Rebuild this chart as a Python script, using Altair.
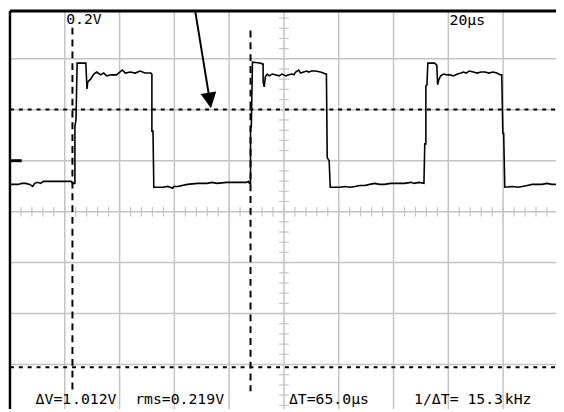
import altair as alt
import pandas as pd

# ---- oscilloscope trace: time (µs) and voltage (V, relative to the ground marker) ----
trace_t = [0, 1.4, 2.9, 4.3, 5.8, 7.2, 8.3, 9.0, 10.1, 11.2, 12.2, 14.4, 16.6, 18.7, 20.9, 22.3, 23.0, 23.4,
           23.7, 23.7, 24.1, 24.5, 24.5, 27.3, 27.7,
           28.1, 28.4, 29.5, 30.6, 31.7, 33.1, 34.2, 35.3, 37.1, 38.9, 41.0, 42.1, 43.9, 45.7, 47.5, 49.3, 51.4,
           51.8, 51.8, 52.2, 52.5,
           55.8, 57.6, 59.4, 59.7, 61.2, 64.8, 68.4, 71.9, 73.7, 75.5, 79.1, 82.7, 86.3, 87.1, 87.4,
           87.8, 87.8, 88.1, 88.5, 91.7, 92.1,
           92.4, 92.4, 92.8, 93.2, 93.9, 94.6, 95.7, 96.8, 98.2, 99.3, 100.7, 101.8, 102.9, 103.6, 104.3, 105.4,
           106.1, 107.2, 108.3, 109.0, 110.1, 111.5, 113.3, 114.4, 115.1,
           115.5, 115.8, 116.5, 116.9,
           118.7, 120.5, 122.3, 124.1, 125.9, 127.7, 129.5, 131.3, 133.1, 134.9, 136.7, 138.9, 140.3, 142.1,
           143.9, 146.4, 147.5, 149.3, 151.1,
           151.4, 151.8, 151.8, 152.2, 152.5, 152.5, 155.0, 155.4,
           155.8, 156.1, 156.5, 157.2, 158.3, 159.4, 160.4, 161.9, 163.3, 164.7, 165.5, 166.5, 167.6, 169.1,
           170.5, 171.9, 173.4, 174.8, 176.3, 177.7, 179.1,
           179.5, 179.9, 180.2, 180.6,
           183.5, 185.3, 187.0, 188.8, 190.6, 192.4, 194.2, 196.0, 197.8, 199.3]
trace_v = [-0.093, -0.093, -0.093, -0.089, -0.089, -0.093, -0.101, -0.089, -0.085, -0.089, -0.081, -0.081,
           -0.081, -0.081, -0.081, -0.081, -0.089, -0.089,
           -0.089, 0.135, 0.162, 0.379, 0.383, 0.383, 0.383,
           0.282, 0.309, 0.321, 0.340, 0.348, 0.337, 0.344, 0.333, 0.337, 0.337, 0.356, 0.344, 0.348, 0.344,
           0.352, 0.344, 0.344,
           0.340, 0.116, 0.116, -0.104,
           -0.104, -0.101, -0.108, -0.101, -0.101, -0.093, -0.089, -0.089, -0.085, -0.089, -0.085, -0.085,
           -0.085, -0.081, -0.089,
           -0.089, 0.128, 0.135, 0.387, 0.383, 0.379,
           0.379, 0.309, 0.290, 0.329, 0.340, 0.333, 0.340, 0.337, 0.333, 0.340, 0.333, 0.337, 0.340, 0.337,
           0.348, 0.356, 0.344, 0.348, 0.352, 0.348, 0.352, 0.352, 0.348, 0.344, 0.340,
           0.340, 0.012, 0.0, -0.104,
           -0.104, -0.104, -0.101, -0.104, -0.101, -0.097, -0.097, -0.093, -0.089, -0.093, -0.093, -0.089,
           -0.089, -0.089, -0.089, -0.085, -0.089, -0.085, -0.089,
           0.066, 0.066, 0.294, 0.298, 0.379, 0.383, 0.383, 0.379,
           0.375, 0.298, 0.317, 0.333, 0.340, 0.337, 0.337, 0.333, 0.340, 0.344, 0.348, 0.344, 0.352, 0.348,
           0.344, 0.348, 0.348, 0.344, 0.348, 0.344, 0.337,
           0.337, 0.108, 0.108, -0.104,
           -0.101, -0.104, -0.101, -0.097, -0.093, -0.093, -0.093, -0.089, -0.093, -0.093]

# ---- screen grid (20 µs/div, 0.2 V/div) ----
grid_t = [20, 40, 60, 80, 100, 120, 140, 160, 180]
grid_v = [0.4, 0.2, 0.0, -0.2, -0.4, -0.6, -0.8]
center_t = 100.0
center_v = -0.2
minor_t = [4 * k for k in range(1, 50)]
minor_v = [round(-0.96 + 0.04 * k, 2) for k in range(0, 39)]

# ---- cursors ----
hcursor_v = [0.201, -0.811]          # ΔV = 1.012 V
vcursor_t = [22.8, 87.8]             # ΔT = 65.0 µs
vcursor_top = [0.522, 0.511]
vcursor_bottom = [-0.905, -0.905]

# ---- ground marker and arrow ----
ground_t = [0.0, 4.3]
ground_v = [0.0, 0.0]
arrow_t = [67.6, 73.0]
arrow_v = [0.588, 0.232]
arrowhead_t = [72.9]
arrowhead_v = [0.236]

# ---- texts ----
top_labels = ["0.2V", "20µs"]
readouts = ["ΔV=1", ".012V", "rms=0.219V", "ΔT=65.0µs", "1/ΔT= 15.3", "kHz"]

W, H = 554, 404
XD = [0, 199.3]
YD = [-0.975, 0.588]
xs = alt.Scale(domain=XD, nice=False, zero=False)
ys = alt.Scale(domain=YD, nice=False, zero=False)
GRAY = "#c4c4c4"
FONT = "DejaVu Sans Mono"


def X(f):
    return alt.X(f, type="quantitative", scale=xs, axis=None)


def Y(f):
    return alt.Y(f, type="quantitative", scale=ys, axis=None)


px_per_t = W / (XD[1] - XD[0])
px_per_v = H / (YD[1] - YD[0])
tick_half_t = 5 / px_per_t
tick_half_v = 5 / px_per_v

layers = []

# vertical grid lines
layers.append(alt.Chart(pd.DataFrame({"t": grid_t})).mark_rule(color=GRAY, strokeWidth=1.5).encode(
    x=X("t"), y=alt.value(0), y2=alt.value(H)))
# horizontal grid lines
layers.append(alt.Chart(pd.DataFrame({"v": grid_v})).mark_rule(color=GRAY, strokeWidth=1.5).encode(
    y=Y("v"), x=alt.value(0), x2=alt.value(W)))
# minor ticks on the centre lines
mt = pd.DataFrame({"t": minor_t, "a": [center_v - tick_half_v] * len(minor_t),
                   "b": [center_v + tick_half_v] * len(minor_t)})
layers.append(alt.Chart(mt).mark_rule(color=GRAY, strokeWidth=1.2).encode(
    x=X("t"), y=Y("a"), y2=alt.Y2("b")))
mv = pd.DataFrame({"v": minor_v, "a": [center_t - tick_half_t] * len(minor_v),
                   "b": [center_t + tick_half_t] * len(minor_v)})
layers.append(alt.Chart(mv).mark_rule(color=GRAY, strokeWidth=1.2).encode(
    y=Y("v"), x=X("a"), x2=alt.X2("b")))

# screen border (left and top)
layers.append(alt.Chart(pd.DataFrame({"t": [0.0]})).mark_rule(color="black", strokeWidth=2.5).encode(
    x=X("t"), y=alt.value(0), y2=alt.value(H)))
layers.append(alt.Chart(pd.DataFrame({"v": [YD[1]]})).mark_rule(color="black", strokeWidth=3).encode(
    y=Y("v"), x=alt.value(0), x2=alt.value(W)))

# horizontal dotted cursors
layers.append(alt.Chart(pd.DataFrame({"v": hcursor_v})).mark_rule(
    color="black", strokeWidth=2, strokeDash=[4, 5]).encode(y=Y("v"), x=alt.value(0), x2=alt.value(W)))
# vertical dashed cursors
layers.append(alt.Chart(pd.DataFrame({"t": vcursor_t, "a": vcursor_top, "b": vcursor_bottom})).mark_rule(
    color="black", strokeWidth=2, strokeDash=[7, 5]).encode(x=X("t"), y=Y("a"), y2=alt.Y2("b")))

# ground marker
layers.append(alt.Chart(pd.DataFrame({"t": ground_t, "v": ground_v})).mark_line(
    color="black", strokeWidth=3).encode(x=X("t"), y=Y("v")))

# the trace
tr = pd.DataFrame({"t": trace_t, "v": trace_v, "i": list(range(len(trace_t)))})
layers.append(alt.Chart(tr).mark_line(color="black", strokeWidth=1.6, interpolate="linear").encode(
    x=X("t"), y=Y("v"), order=alt.Order("i:Q")))

# arrow
layers.append(alt.Chart(pd.DataFrame({"t": arrow_t, "v": arrow_v})).mark_line(
    color="black", strokeWidth=2).encode(x=X("t"), y=Y("v")))
layers.append(alt.Chart(pd.DataFrame({"t": arrowhead_t, "v": arrowhead_v})).mark_point(
    shape="M-1,-1L1,-1L0,1Z", filled=True, color="black", opacity=1, size=256, angle=351).encode(
    x=X("t"), y=Y("v")))


# texts
def label(s, x, y):
    return alt.Chart(pd.DataFrame({"s": [s]})).mark_text(
        font=FONT, fontSize=15, align="left", baseline="alphabetic", color="black").encode(
        text="s:N", x=alt.value(x), y=alt.value(y))


layers.append(label(top_labels[0], 57, 13))
layers.append(label(top_labels[1], 446, 14))
layers.append(label(readouts[0], 26, 399))
layers.append(label(readouts[1], 63, 399))
layers.append(label(readouts[2], 127, 399))
layers.append(label(readouts[3], 283, 399))
layers.append(label(readouts[4], 410, 399))
layers.append(label(readouts[5], 502, 399))

chart = alt.layer(*layers).properties(
    width=W, height=H,
    autosize=alt.AutoSizeParams(type="none"),
    padding={"left": 2, "top": 0, "right": 0, "bottom": 0},
    background="white",
).configure_view(stroke=None)

chart.save("out.html", embed_options={"renderer": "svg", "actions": False})
